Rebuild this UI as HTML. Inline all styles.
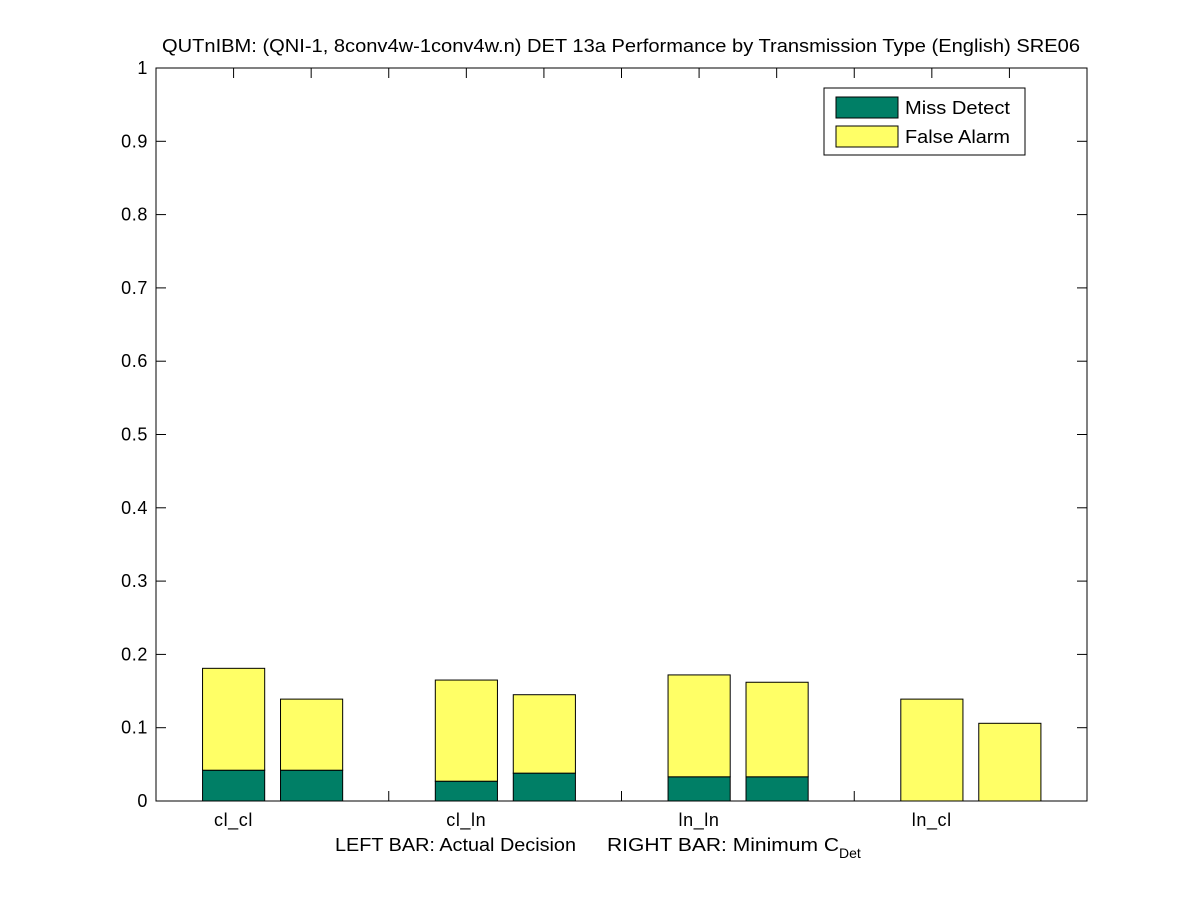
<!DOCTYPE html>
<html><head><meta charset="utf-8"><style>
body{margin:0;background:#fff;}
svg{display:block;font-family:"Liberation Sans",sans-serif;}
</style></head><body>
<svg id="chart" width="1201" height="900">
<rect x="0" y="0" width="1201" height="900" fill="#fff"/>
<text x="162" y="52" font-size="18" textLength="918" lengthAdjust="spacingAndGlyphs">QUTnIBM: (QNI-1, 8conv4w-1conv4w.n) DET 13a Performance by Transmission Type (English) SRE06</text>
<g id="xticks"></g>
<g id="bars"></g>
<rect x="156" y="68" width="931" height="733" fill="none" stroke="#000"/>
<g id="axes"></g>
<text x="335" y="851" font-size="18"><tspan textLength="241" lengthAdjust="spacingAndGlyphs">LEFT BAR: Actual Decision</tspan><tspan x="607" textLength="232" lengthAdjust="spacingAndGlyphs">RIGHT BAR: Minimum C</tspan><tspan dy="7" font-size="14">Det</tspan></text>
<g>
<rect x="824" y="88" width="201" height="67" fill="#fff" stroke="#000"/>
<rect x="836" y="97" width="62" height="21" fill="#007f66" stroke="#000"/>
<text x="905" y="114" font-size="18" textLength="105" lengthAdjust="spacingAndGlyphs">Miss Detect</text>
<rect x="836" y="126" width="62" height="21" fill="#ffff66" stroke="#000"/>
<text x="905" y="143" font-size="18" textLength="105" lengthAdjust="spacingAndGlyphs">False Alarm</text>
</g>
</svg>
<script>
const categories=["cl_cl","cl_ln","ln_ln","ln_cl"];
const actualMiss=[0.042,0.027,0.033,0.0];
const actualTotal=[0.181,0.165,0.172,0.139];
const minMiss=[0.042,0.038,0.033,0.0];
const minTotal=[0.139,0.145,0.162,0.106];
const yTicks=[0,0.1,0.2,0.3,0.4,0.5,0.6,0.7,0.8,0.9,1];
const yTickLabels=["0","0.1","0.2","0.3","0.4","0.5","0.6","0.7","0.8","0.9","1"];
const NS="http://www.w3.org/2000/svg";
const x=v=>156+v*(931/categories.length);
const y=v=>801-v*733;
const bars=document.getElementById('bars'),axes=document.getElementById('axes'),xt=document.getElementById('xticks');
function mk(tag,attrs,parent){const e=document.createElementNS(NS,tag);for(const k in attrs)e.setAttribute(k,attrs[k]);parent.appendChild(e);return e;}
for(let k=1;k<categories.length*3;k++){
  const p=x(k/3);
  const tk=mk('line',{x1:p,x2:p,y1:801,y2:791,stroke:'#000'},xt);
  
  
  const tk2=mk('line',{x1:p,x2:p,y1:68,y2:78,stroke:'#000'},xt);
  
  
}
categories.forEach((c,i)=>{
  [[actualMiss,actualTotal,0.2,'actual'],[minMiss,minTotal,0.535,'min']].forEach(([m,t,off,nm])=>{
    const x0=x(i+off),w=x(i+off+0.267)-x0;
    const r1=mk('rect',{x:x0,y:y(m[i]),width:w,height:y(0)-y(m[i]),fill:'#007f66',stroke:'#000'},bars);
    
    
    const r2=mk('rect',{x:x0,y:y(t[i]),width:w,height:y(m[i])-y(t[i]),fill:'#ffff66',stroke:'#000'},bars);
    
    
  });
  const lb=mk('text',{x:x(i+0.333),y:826,'font-size':18,'text-anchor':'middle','letter-spacing':'0.6'},axes);
  lb.textContent=c;
  
  
});
yTicks.forEach((v,j)=>{
  const a=mk('line',{x1:156,x2:166,y1:y(v),y2:y(v),stroke:'#000'},axes);
  
  
  const b=mk('line',{x1:1077,x2:1087,y1:y(v),y2:y(v),stroke:'#000'},axes);
  
  
  const t=mk('text',{x:148,y:y(v)+6,'font-size':18,'text-anchor':'end','letter-spacing':'0.6'},axes);
  t.textContent=yTickLabels[j];
  
  
});
</script>
</body></html>
